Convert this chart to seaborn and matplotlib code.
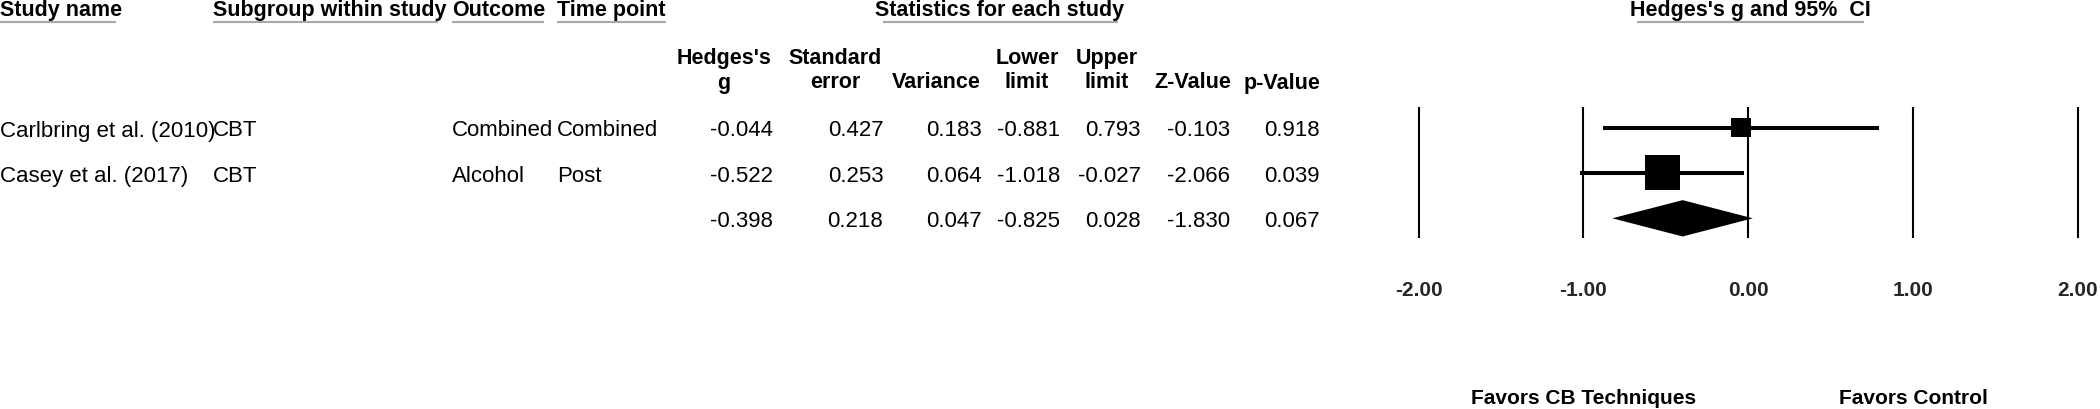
import numpy as np
import pandas as pd
import seaborn as sns
import matplotlib
matplotlib.use('Agg')
import matplotlib.pyplot as plt
from matplotlib import transforms

# Study rows
studies = ['Carlbring et al. (2010)', 'Casey et al. (2017)']
subgroups = ['CBT', 'CBT']
outcomes = ['Combined', 'Alcohol']
time_points = ['Combined', 'Post']

# Statistics: last entry of each list is the pooled row
hedges_g = [-0.044, -0.522, -0.398]
std_error = [0.427, 0.253, 0.218]
variance = [0.183, 0.064, 0.047]
lower_limit = [-0.881, -1.018, -0.825]
upper_limit = [0.793, -0.027, 0.028]
z_value = [-0.103, -2.066, -1.830]
p_value = [0.918, 0.039, 0.067]

x_ticks = [-2, -1, 0, 1, 2]
x_tick_labels = ['-2.00', '-1.00', '0.00', '1.00', '2.00']
favors_pos = [-1, 1]
favors_labels = ['Favors CB Techniques', 'Favors Control']

top_headers = ['Study name', 'Subgroup within study', 'Outcome', 'Time point']
stat_headers = [('Hedges\'s', 'g'), ('Standard', 'error'), ('', 'Variance'),
                ('Lower', 'limit'), ('Upper', 'limit'), ('', 'Z-Value'), ('', 'p-Value')]

sns.set_style('white')
plt.rcParams['font.family'] = ['Liberation Sans', 'DejaVu Sans']

W, H = 2100, 409
fig = plt.figure(figsize=(W / 100, H / 100), dpi=100)

# background axes in pixel units, used for the table
ax_bg = fig.add_axes([0, 0, 1, 1])
ax_bg.set_xlim(0, W)
ax_bg.set_ylim(H, 0)
ax_bg.axis('off')

# layout (pixels)
row0, row_step = 127.5, 45.4
fx0, fx1 = 1418.7, 2077.7      # x=-2 and x=2
fy0, fy1 = 106.7, 237.7        # top / bottom of the vertical lines
unit = (fx1 - fx0) / 4
marg = 0.05
ax_f = fig.add_axes([(fx0 - marg * unit) / W, 1 - fy1 / H,
                     (fx1 - fx0 + 2 * marg * unit) / W, (fy1 - fy0) / H])

grey = '#a8a8a8'
hdr_kw = dict(fontsize=15.5, fontweight='bold', color='black', va='baseline')
body_kw = dict(fontsize=16, color='black', va='baseline')

# top headers with grey underlines
top_x = [0, 213, 452, 557]
top_ul = [(0, 116), (213, 438), (452, 544), (557, 666)]
for s, x, (u0, u1) in zip(top_headers, top_x, top_ul):
    ax_bg.text(x, 16, s, ha='left', **hdr_kw)
    ax_bg.hlines(22, u0, u1, color=grey, lw=1.5)

ax_bg.text(1000, 16, 'Statistics for each study', ha='center', **hdr_kw)
ax_bg.hlines(22, 883, 1118, color=grey, lw=1.5)
ax_bg.text(1750, 16, 'Hedges\'s g and 95%  CI', ha='center', **hdr_kw)
ax_bg.hlines(22, 1637, 1864, color=grey, lw=1.5)

# statistics column headers
col_centers = [724, 835, 936, 1027, 1107, 1193, 1282]
col_right = [773.3, 883.3, 981.7, 1060, 1140.7, 1230, 1319.3]
for (l1, l2), cx in zip(stat_headers, col_centers):
    if l1:
        ax_bg.text(cx, 64, l1, ha='center', **hdr_kw)
    ax_bg.text(cx, 88.5, l2, ha='center', **hdr_kw)

# table body
for i in range(len(studies)):
    yb = row0 + i * row_step + 9
    ax_bg.text(0, yb, studies[i], ha='left', **body_kw)
    ax_bg.text(213, yb, subgroups[i], ha='left', **body_kw)
    ax_bg.text(452, yb, outcomes[i], ha='left', **body_kw)
    ax_bg.text(557, yb, time_points[i], ha='left', **body_kw)

cols = [hedges_g, std_error, variance, lower_limit, upper_limit, z_value, p_value]
for vals, xr in zip(cols, col_right):
    for i, v in enumerate(vals):
        yb = row0 + i * row_step + 9
        ax_bg.text(xr, yb, f'{v:.3f}', ha='right', **body_kw)

# forest plot
df = pd.DataFrame({
    'row': np.arange(len(studies)),
    'g': hedges_g[:-1],
    'lo': lower_limit[:-1],
    'hi': upper_limit[:-1],
    'weight': 1 / np.array(variance[:-1]),
})

ax_f.hlines(df['row'], df['lo'], df['hi'], color='black', lw=2.9, zorder=2)
sns.scatterplot(data=df, x='g', y='row', size='weight', sizes=(207, 635),
                marker='s', color='black', edgecolor='black', linewidth=0,
                legend=False, ax=ax_f, zorder=3)

# pooled diamond
pr = len(studies)
hh = 0.4
ax_f.fill([lower_limit[-1], hedges_g[-1], upper_limit[-1], hedges_g[-1]],
          [pr, pr - hh, pr, pr + hh], color='black', lw=0, zorder=3)

ax_f.set_xlim(-2 - marg, 2 + marg)
ax_f.set_ylim((fy1 - row0) / row_step, (fy0 - row0) / row_step)
ax_f.set_xticks(x_ticks, x_tick_labels)
ax_f.set_yticks([])
ax_f.grid(axis='x', color='black', lw=1.5)
ax_f.grid(axis='y', visible=False)
ax_f.set_axisbelow(True)
ax_f.tick_params(axis='x', length=0, pad=31, labelsize=15)
for lab in ax_f.get_xticklabels():
    lab.set_fontweight('bold')
ax_f.set_xlabel('')
ax_f.set_ylabel('')
sns.despine(ax=ax_f, left=True, bottom=True)
ax_f.patch.set_alpha(0)

trans = transforms.blended_transform_factory(ax_f.transData, ax_bg.transData)
for xp, s in zip(favors_pos, favors_labels):
    ax_f.text(xp, 404, s, transform=trans, ha='center', va='baseline',
              fontsize=15, fontweight='bold', color='black', clip_on=False)

fig.savefig('out.png', dpi=100)
